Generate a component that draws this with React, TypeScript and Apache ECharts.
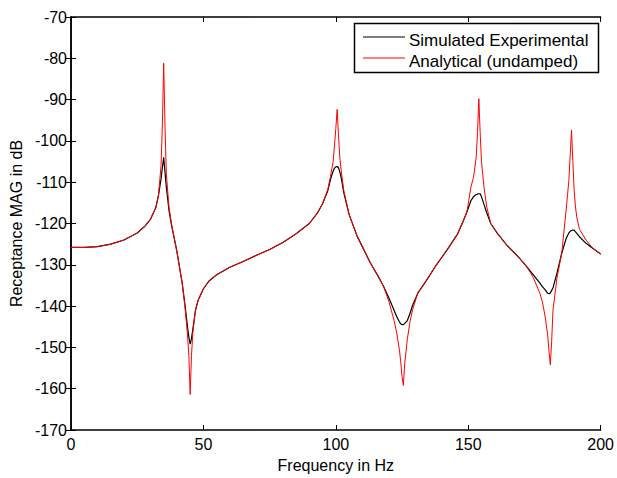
import React, { useEffect, useRef } from "react";
import * as echarts from "echarts";

// Frequency samples (Hz)
const freq: number[] = [
  0, 5, 10, 15, 20, 25, 28, 30, 32, 33, 34, 34.5, 35, 35.5, 36, 37, 38, 40, 42, 43, 44, 44.5, 45, 45.5, 46, 47, 48,
  50, 52, 55, 60, 65, 70, 75, 80, 85, 90, 93, 95, 97, 98, 99, 99.5, 100, 100.5, 101, 101.5, 102, 103, 105, 108,
  110, 113, 116, 118, 120, 122, 123, 124, 124.5, 125, 125.5, 126, 127, 128, 129, 131, 134, 138, 142, 146, 148,
  149.5, 151, 152, 153, 153.5, 154, 154.5, 155, 156, 157, 158.5, 161, 164.5, 168.5, 172, 174.5, 177, 178, 179,
  180, 180.5, 181, 181.5, 182, 183.5, 185.3, 187, 187.5, 188, 188.5, 189, 189.5, 190, 190.5, 191, 192, 194.5,
  197, 200,
];

// Simulated Experimental (damped) receptance, dB
const experimental: number[] = [
  -125.8, -125.8, -125.6, -125.0, -124.0, -122.3, -120.6, -119.0, -116.2, -113.3, -109.2, -106.5, -104.0, -107.5,
  -111.2, -116.8, -120.5, -126.8, -134.5, -139.5, -145.0, -147.5, -149.2, -147.8, -145.6, -141.0, -138.6,
  -135.8, -134.0, -132.4, -130.6, -129.2, -127.7, -126.3, -124.6, -122.5, -120.0, -117.5, -115.2, -112.0, -109.3,
  -107.3, -106.6, -106.3, -106.2, -106.5, -107.5, -108.8, -112.5, -117.8, -123.0,
  -125.6, -129.5, -132.8, -135.2, -138.0, -141.0, -142.6, -143.8, -144.3, -144.5, -144.5, -144.2, -143.5, -141.8,
  -139.8, -136.8, -134.0, -130.0, -126.4, -122.5, -119.6,
  -117.2, -114.5, -113.5, -113.0, -112.9, -112.8, -112.8, -113.5, -115.5, -117.4, -120.0, -122.4, -125.2, -127.8,
  -130.4, -132.4, -134.4, -135.3, -136.0,
  -136.9, -137.0, -136.8, -136.2, -135.6, -132.0, -127.2, -123.6, -122.9, -122.3, -121.9, -121.7, -121.6, -121.6,
  -122.0, -122.4, -123.2, -124.8,
  -126.0, -127.4,
];

// Analytical (undamped) receptance, dB
const analytical: number[] = [
  -125.8, -125.8, -125.6, -125.0, -124.0, -122.3, -120.6, -119.0, -116.2, -113.3, -106.0, -96.0, -81.2, -96.5,
  -108.0, -116.0, -120.3, -126.8, -134.5, -140.0, -147.0, -152.0, -161.4, -152.0, -146.5, -141.0, -138.6,
  -135.8, -134.0, -132.4, -130.6, -129.2, -127.7, -126.3, -124.6, -122.5, -120.0, -117.5, -115.2, -111.7, -108.5,
  -105.0, -101.0, -97.0, -92.4, -98.5, -104.0, -107.0, -112.0, -117.8, -123.0,
  -125.6, -129.5, -132.8, -135.2, -138.8, -143.5, -146.5, -150.5, -153.5, -157.0, -159.2, -154.0, -148.0, -143.8,
  -140.8, -136.8, -134.0, -130.0, -126.4, -122.5, -119.6,
  -117.2, -111.2, -108.8, -104.0, -98.0, -89.8, -98.0, -105.0, -111.5, -116.0, -120.0, -122.4, -125.2, -127.8,
  -130.4, -133.0, -136.8, -139.0, -142.4,
  -147.0, -151.0, -154.2, -148.5, -141.0, -133.2, -127.2, -116.5, -113.0, -109.6, -103.5, -97.4, -105.0, -112.0,
  -116.0, -118.5, -121.4, -124.0,
  -126.0, -127.4,
];

const seriesNames: string[] = ["Simulated Experimental", "Analytical (undamped)"];
const seriesColors: string[] = ["#000000", "#ff0000"];

const xTicks = { min: 0, max: 200, interval: 50 };
const yTicks = { min: -170, max: -70, interval: 10 };

const FONT = "'Liberation Sans', Arial, Helvetica, sans-serif";

export default function App() {
  const ref = useRef<HTMLDivElement>(null);

  useEffect(() => {
    if (!ref.current) return;
    const chart = echarts.init(ref.current, undefined, { renderer: "svg" });
    const expData = freq.map((f, i) => [f, experimental[i]]);
    const anaData = freq.map((f, i) => [f, analytical[i]]);

    const axisLine = { show: true, lineStyle: { color: "#000", width: 1.5 } };
    const tick = { show: true, inside: true, length: 5, lineStyle: { color: "#000", width: 1 } };

    // legend drawn as graphic (MATLAB-style box)
    const legendRows = seriesNames.map((name, i) => {
      const lineY = 37 + i * 21;
      return [
        {
          type: "line",
          shape: { x1: 363, y1: lineY, x2: 405, y2: lineY },
          style: { stroke: seriesColors[i], lineWidth: 1 },
        },
        {
          type: "text",
          x: 409,
          y: 40.3 + i * 21,
          style: {
            text: name,
            fill: "#000",
            font: `17px ${FONT}`,
            verticalAlign: "middle",
            align: "left",
          },
        },
      ];
    });

    chart.setOption({
      animation: false,
      backgroundColor: "#fff",
      textStyle: { fontFamily: FONT },
      grid: { left: 71, right: 12, top: 17, bottom: 46, containLabel: false },
      graphic: [
        {
          type: "rect",
          shape: { x: 354.5, y: 23.5, width: 244, height: 49 },
          style: { fill: "#fff", stroke: "#000", lineWidth: 1.5 },
          z: 10,
        },
        ...legendRows.flat().map((el) => ({ ...el, z: 11 })),
      ],
      xAxis: [
        {
          type: "value",
          ...xTicks,
          name: "Frequency in Hz",
          nameLocation: "middle",
          nameGap: 27,
          nameTextStyle: { fontFamily: FONT, fontSize: 16, color: "#000" },
          axisLine,
          axisTick: tick,
          splitLine: { show: false },
          axisLabel: { fontFamily: FONT, fontSize: 16, color: "#000", margin: 6 },
        },
        {
          type: "value",
          ...xTicks,
          position: "top",
          axisLine,
          axisTick: tick,
          splitLine: { show: false },
          axisLabel: { show: false },
        },
      ],
      yAxis: [
        {
          type: "value",
          ...yTicks,
          name: "Receptance MAG in dB",
          nameLocation: "middle",
          nameGap: 46,
          nameTextStyle: { fontFamily: FONT, fontSize: 16, color: "#000" },
          axisLine,
          axisTick: tick,
          splitLine: { show: false },
          axisLabel: { fontFamily: FONT, fontSize: 16, color: "#000", margin: 4 },
        },
        {
          type: "value",
          ...yTicks,
          position: "right",
          axisLine,
          axisTick: tick,
          splitLine: { show: false },
          axisLabel: { show: false },
        },
      ],
      series: [
        {
          name: seriesNames[0],
          type: "line",
          data: expData,
          symbol: "none",
          showSymbol: false,
          smooth: false,
          lineStyle: { color: seriesColors[0], width: 1.2 },
          itemStyle: { color: seriesColors[0] },
          z: 2,
        },
        {
          name: seriesNames[1],
          type: "line",
          data: anaData,
          symbol: "none",
          showSymbol: false,
          smooth: false,
          lineStyle: { color: seriesColors[1], width: 1 },
          itemStyle: { color: seriesColors[1] },
          z: 3,
        },
      ],
    });
    return () => chart.dispose();
  }, []);

  return (
    <div
      ref={ref}
      style={{ position: "fixed", left: 0, top: 0, width: 617, height: 478, background: "#fff" }}
    />
  );
}
